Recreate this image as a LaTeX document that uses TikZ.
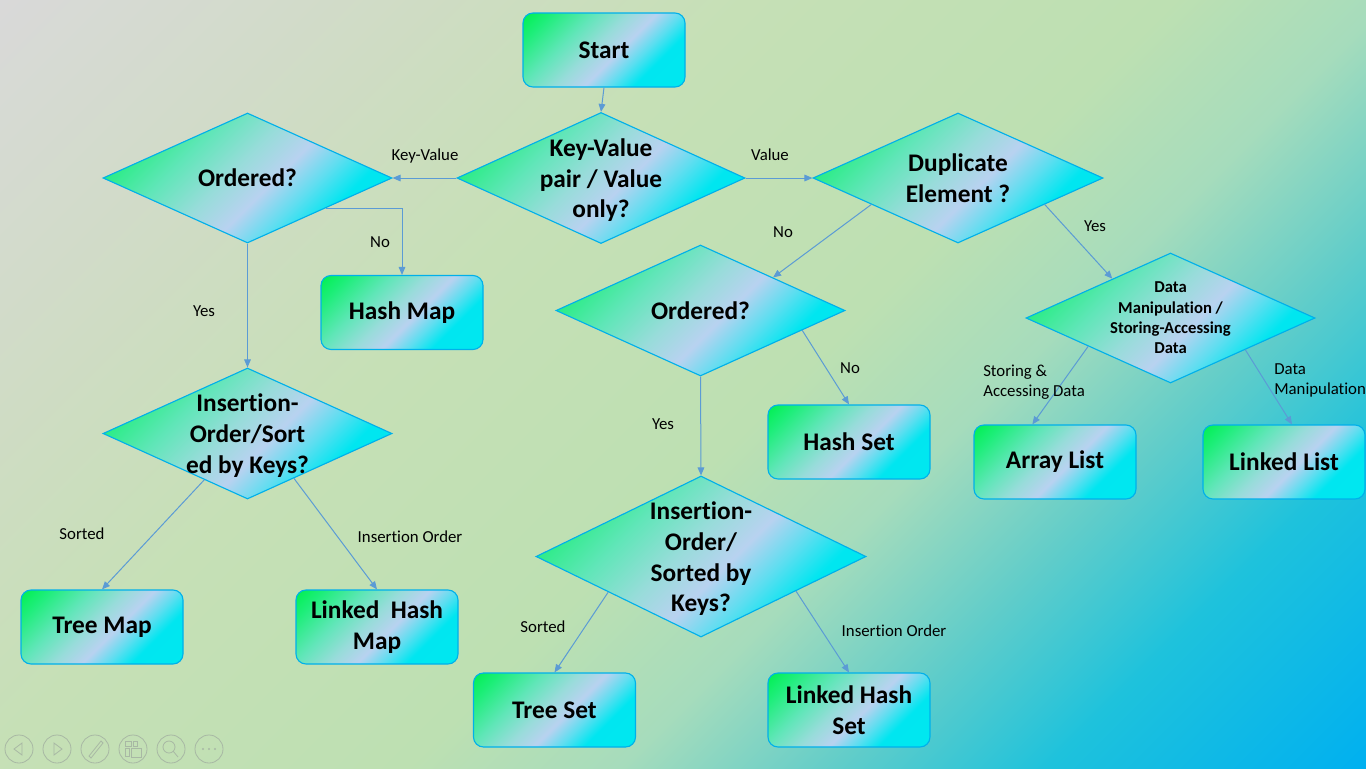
\documentclass[tikz,border=0pt]{standalone}
\usepackage{fontspec}
\setmainfont{Carlito}[Ligatures={NoCommon,NoContextual}]
\usetikzlibrary{shapes.geometric,arrows.meta}
\definecolor{bgA}{HTML}{D9D9D9}
\definecolor{bgB}{HTML}{CFDCC4}
\definecolor{bgC}{HTML}{C6E0B6}
\definecolor{bgD}{HTML}{BDE0B2}
\definecolor{bgE}{HTML}{A6DCBC}
\definecolor{bgF}{HTML}{62CDC9}
\definecolor{bgG}{HTML}{1EC2DC}
\definecolor{bgH}{HTML}{00B0F0}
\definecolor{ndA}{HTML}{00F050}
\definecolor{ndB}{HTML}{1EEE7A}
\definecolor{ndC}{HTML}{60E6B8}
\definecolor{ndD}{HTML}{98DCDA}
\definecolor{ndE}{HTML}{B8D2F0}
\definecolor{ndF}{HTML}{5CDEF0}
\definecolor{ndG}{HTML}{00E6F0}
\definecolor{ndH}{HTML}{00E8F0}
\definecolor{nodeborder}{HTML}{00B0EA}
\definecolor{arrowblue}{HTML}{5B9BD5}
\definecolor{ctrlgray}{HTML}{A8B8A4}
\pgfdeclarehorizontalshading{bgshade}{100bp}{color(0bp)=(bgA); color(25bp)=(bgA); color(35bp)=(bgB); color(42.5bp)=(bgC); color(52.5bp)=(bgD); color(57.5bp)=(bgE); color(62.5bp)=(bgF); color(67.5bp)=(bgG); color(75bp)=(bgH); color(100bp)=(bgH)}
\pgfdeclarehorizontalshading{ndshade}{100bp}{color(0bp)=(ndA); color(14.64bp)=(ndA); color(23.13bp)=(ndB); color(35.85bp)=(ndC); color(46.46bp)=(ndD); color(54.95bp)=(ndE); color(62.72bp)=(ndF); color(69.8bp)=(ndG); color(85.35bp)=(ndH); color(100bp)=(ndH)}
\newcommand\myNodeFont{\fontsize{19}{23}\selectfont\bfseries}
\newcommand\myDmFont{\fontsize{12.5}{15.2}\selectfont\bfseries}
\newcommand\myLblFont{\fontsize{12.6}{15}\selectfont}
\begin{document}
\begin{tikzpicture}[x=0.75pt,y=-0.75pt,
  box/.style={draw=nodeborder, line width=0.85pt, rounded corners=7.5pt, shade, shading=ndshade, shading angle=-45,
    minimum width=121.5pt, minimum height=55.5pt, inner sep=2pt, align=center, font=\myNodeFont},
  dia/.style={diamond, draw=nodeborder, line width=0.85pt, shade, shading=ndshade, shading angle=-45, inner sep=0pt},
  dtext/.style={align=center, font=\myNodeFont, inner sep=0pt},
  lbl/.style={font=\myLblFont, inner sep=0pt},
  conn/.style={draw=arrowblue, line width=0.75pt, -{Triangle[length=6pt,width=5pt]}},
  ctrl/.style={draw=ctrlgray, line width=0.6pt}
]
\useasboundingbox (0,0) rectangle (1366,768);
% background
\begin{scope}
\clip (0,0) rectangle (1366,768);
\shade[shading=bgshade, transform canvas={rotate around={-45:(683,384)}}] (-72,-416) rectangle (1438,1184);
\end{scope}
% slide controls
\foreach \cx in {19,57,95,133,171,209} {\draw[ctrl] (\cx,749) circle[radius=10.5pt];}
\draw[ctrl] (22,743) -- (14,749) -- (22,755) -- cycle;
\draw[ctrl] (54,743) -- (62,749) -- (54,755) -- cycle;
\draw[ctrl] (89,756) -- (101,741) -- (103,743) -- (91,758) -- cycle;
\draw[ctrl] (125,741) rectangle (131,746) (125,748) rectangle (129,756) (131,748) rectangle (141,757) (133,741) rectangle (137,746);
\draw[ctrl] (169,747) circle[radius=4.5pt] (173,751) -- (178,757);
\foreach \dx in {-6,0,6} {\fill[ctrlgray] (209+\dx,749) circle[radius=0.9pt];}
% rounded boxes
\node[box] (start) at (604,50) {Start};
\node[box] (hm) at (402,312.5) {Hash Map};
\node[box] (tm) at (102,627) {Tree Map};
\node[box] (lhm) at (377,627) {Linked\ \ Hash\\Map};
\node[box] (hs) at (849,442) {Hash Set};
\node[box] (ts) at (554.5,710) {Tree Set};
\node[box] (lhs) at (849,710) {Linked Hash\\Set};
\node[box] (al) at (1055,462) {Array List};
\node[box] (ll) at (1284,462) {Linked List};
% diamonds
\node[dia, minimum width=216pt, minimum height=98.25pt] (kv) at (601,178) {};
\node[dtext, yshift=-1.8pt] (kvt) at (kv.center) {Key-Value\\pair / Value\\only?};
\node[dia, minimum width=216.75pt, minimum height=97.5pt] (ord1) at (247.5,178) {};
\node[dtext] (ord1t) at (ord1.center) {Ordered?};
\node[dia, minimum width=217.5pt, minimum height=97.5pt] (dup) at (958,178) {};
\node[dtext] (dupt) at (dup.center) {Duplicate\\Element ?};
\node[dia, minimum width=216.75pt, minimum height=98.25pt] (ord2) at (700.5,310.5) {};
\node[dtext] (ord2t) at (ord2.center) {Ordered?};
\node[dia, minimum width=216.75pt, minimum height=98.25pt] (ins1) at (247.5,433.5) {};
\node[dtext, yshift=-1.5pt] (ins1t) at (ins1.center) {Insertion-\\Order/Sort\\ed by Keys?};
\node[dia, minimum width=247.5pt, minimum height=120.75pt] (ins2) at (701,556.5) {};
\node[dtext, yshift=-1.8pt] (ins2t) at (ins2.center) {Insertion-\\Order/\\Sorted by\\Keys?};
\node[dia, minimum width=216.75pt, minimum height=97.5pt] (dm) at (1170.5,318) {};
\node[dtext, font=\myDmFont] (dmt) at (dm.center) {Data\\Manipulation /\\Storing-Accessing\\Data};
% connectors
\draw[conn] (start.south) -- (kv.north);
\draw[conn] (kv.west) -- (ord1.east);
\draw[conn] (kv.east) -- (dup.west);
\draw[conn] (ord1.-21) -| (hm.north);
\draw[conn] (ord1.south) -- (ins1.north);
\draw[conn] (ins1) -- (tm.north);
\draw[conn] (ins1.-44) -- (lhm.north);
\draw[conn] (dup.197) -- (ord2.north east);
\draw[conn] (ord2.-11) -- (hs.north);
\draw[conn] (ord2.south) -- (ins2.north);
\draw[conn] (ins2.201) -- (ts.north);
\draw[conn] (ins2.-20) -- (lhs.north);
\draw[conn] (dup.-17) -- (dm.146);
\draw[conn] (dm.199) -- ([xshift=-17pt]al.north);
\draw[conn] (dm.-23) -- ([xshift=6pt]ll.north);
% labels
\node[lbl] (lKV) at (425,156) {Key-Value};
\node[lbl] (lVal) at (770,155) {Value};
\node[lbl] (lNo1) at (380,242) {No};
\node[lbl] (lYes1) at (204,311) {Yes};
\node[lbl] (lSort1) at (82,534) {Sorted};
\node[lbl] (lIns1) at (410,537) {Insertion Order};
\node[lbl] (lNo2) at (783,232) {No};
\node[lbl] (lNo3) at (850,368) {No};
\node[lbl] (lYes2) at (663,424) {Yes};
\node[lbl] (lSort2) at (543,627) {Sorted};
\node[lbl] (lIns2) at (894,631) {Insertion Order};
\node[lbl] (lYes3) at (1095,226) {Yes};
\node[lbl, anchor=west, align=left] (lSA) at (983,382) {Storing \&\\Accessing Data};
\node[lbl, anchor=west, align=left] (lDM) at (1274,380) {Data\\Manipulation};
\end{tikzpicture}
\end{document}
